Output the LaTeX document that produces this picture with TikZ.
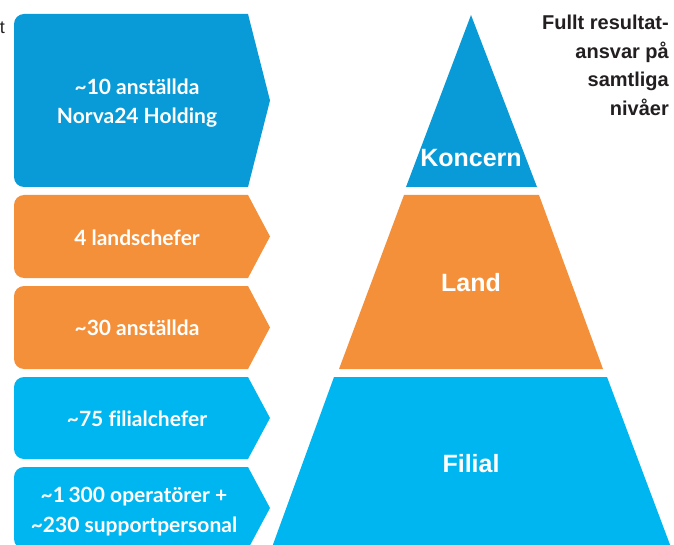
\documentclass[tikz,border=0pt]{standalone}
\usepackage{fontspec}
\setmainfont[Ligatures=NoCommon]{Lato}
\newfontfamily\helv{Liberation Sans}
\definecolor{dblue}{RGB}{8,155,215}
\definecolor{orng}{RGB}{245,144,58}
\definecolor{lblue}{RGB}{0,182,240}
\definecolor{ink}{RGB}{35,31,32}
\tikzset{
  boxtext/.style={text=white, font=\fontsize{21}{29}\selectfont\bfseries, align=center, inner sep=0pt},
  pyrtext/.style={text=white, font=\helv\fontsize{25}{30}\selectfont\bfseries, inner sep=0pt},
  sidetext/.style={text=ink, font=\helv\fontsize{20}{28.5}\selectfont\bfseries, align=right, inner sep=0pt},
}
\newcommand{\arrowbox}[4]{% top, bottom, colour
  \fill[#3] (248,#1) -- (270,{(#1+#2)/2}) -- (248,#2) [rounded corners=10] -- (14,#2) -- (14,#1) -- (140,#1) [sharp corners] -- cycle;
}
\begin{document}
\begin{tikzpicture}[x=1pt,y=-1pt]
\useasboundingbox (0,0) rectangle (674,545);
\clip (0,0) rectangle (674,545);
% left arrow boxes
\arrowbox{14}{187}{dblue}{}
\arrowbox{195}{278}{orng}{}
\arrowbox{286}{369}{orng}{}
\arrowbox{377}{459}{lblue}{}
\arrowbox{467}{549}{lblue}{}
\node[boxtext] (b1) at (137,103) {\textasciitilde10 anställda\\Norva24 Holding};
\node[boxtext] (b2) at (137,238) {4 landschefer};
\node[boxtext] (b3) at (137,328) {\textasciitilde30 anställda};
\node[boxtext] (b4) at (137,419) {\textasciitilde75 filialchefer};
\node[boxtext, font=\fontsize{21}{30}\selectfont\bfseries] (b5) at (134,512) {\textasciitilde1\,300 operatörer +\\\textasciitilde230 supportpersonal};
% pyramid
\fill[dblue] (471,15) -- (537,187) -- (406,187) -- cycle;
\fill[orng] (404,195) -- (539,195) -- (603,369) -- (339,369) -- cycle;
\fill[lblue] (334,377) -- (607,377) -- (672,550) -- (271,550) -- cycle;
\node[pyrtext] (koncern) at (471,158) {Koncern};
\node[pyrtext] (land) at (471,283) {Land};
\node[pyrtext] (filial) at (471,464) {Filial};
% side text
\node[sidetext, anchor=north east] (ansvar) at (669,15) {Fullt resultat-\\ansvar på\\samtliga\\nivåer};
\node[text=ink, font=\helv\fontsize{18}{20}\selectfont, anchor=base east, inner sep=0pt] (tcut) at (5,34) {t};
\end{tikzpicture}
\end{document}
